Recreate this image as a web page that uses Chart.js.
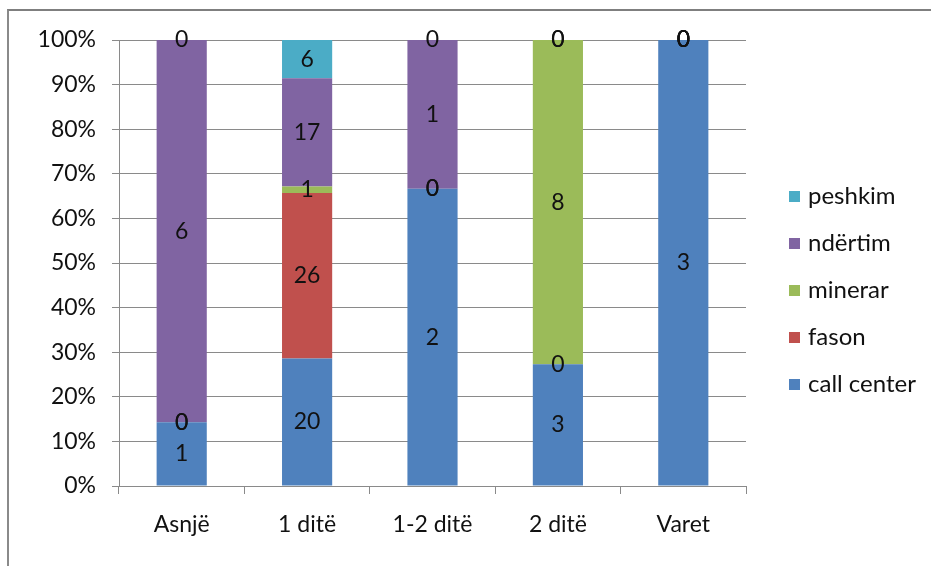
<!DOCTYPE html>
<html>
<head>
<meta charset="utf-8">
<script src="https://cdn.jsdelivr.net/npm/chart.js@4"></script>
<style>
  html, body { margin: 0; padding: 0; background: #fff; width: 931px; height: 566px; overflow: hidden; }
  #frame { position: absolute; left: 7px; top: 9px; width: 940px; height: 600px; border-top: 2px solid #7f7f7f; border-left: 2px solid #8a8a8a; }
  #wrap { position: absolute; left: 0; top: 0; width: 931px; height: 566px; }
</style>
</head>
<body>
<div id="frame"></div>
<div id="wrap"><canvas id="c" width="931" height="566"></canvas></div>
<script>
const categories = ["Asnjë", "1 ditë", "1-2 ditë", "2 ditë", "Varet"];
const seriesNames = ["call center", "fason", "minerar", "ndërtim", "peshkim"];
const callCenter = [1, 20, 2, 3, 3];
const fason      = [0, 26, 0, 0, 0];
const minerar    = [0, 1, 0, 8, 0];
const ndertim    = [6, 17, 1, 0, 0];
const peshkim    = [0, 6, 0, 0, 0];
const seriesColors = ["#4F81BD", "#C0504D", "#9BBB59", "#8064A2", "#4BACC6"];
const yTicks = [0, 10, 20, 30, 40, 50, 60, 70, 80, 90, 100];

const counts = [callCenter, fason, minerar, ndertim, peshkim];
const totals = categories.map((_, i) => counts.reduce((s, arr) => s + arr[i], 0));

const FONT = "Lato, 'Open Sans', sans-serif";
const TEXT = "#111111";

const datasets = counts.map((arr, k) => ({
  label: seriesNames[k],
  data: arr.map((v, i) => totals[i] ? v / totals[i] * 100 : 0),
  raw: arr,
  backgroundColor: seriesColors[k],
  borderWidth: 0,
  categoryPercentage: 1.0,
  barPercentage: 0.4
}));

const labelPlugin = {
  id: 'segLabels',
  afterDatasetsDraw(chart) {
    const ctx = chart.ctx;
    ctx.save();
    ctx.font = "23px " + FONT;
    ctx.fillStyle = TEXT;
    ctx.textAlign = "center";
    ctx.textBaseline = "middle";
    chart.data.datasets.forEach((ds, k) => {
      const meta = chart.getDatasetMeta(k);
      meta.data.forEach((el, i) => {
        const y = (el.y + el.base) / 2;
        ctx.fillText(String(ds.raw[i]), el.x, y);
      });
    });
    ctx.restore();
  }
};

const legendPlugin = {
  id: 'sideLegend',
  afterDraw(chart) {
    const ctx = chart.ctx;
    const area = chart.chartArea;
    ctx.save();
    ctx.font = "24px " + FONT;
    ctx.textAlign = "left";
    ctx.textBaseline = "middle";
    const n = chart.data.datasets.length;
    const step = 47;
    const x0 = area.right + 43;
    const yFirst = 196;
    for (let j = 0; j < n; j++) {
      const k = n - 1 - j;
      const ds = chart.data.datasets[k];
      const y = yFirst + j * step;
      ctx.fillStyle = ds.backgroundColor;
      ctx.fillRect(x0, y - 5, 11, 11);
      ctx.fillStyle = TEXT;
      ctx.fillText(ds.label, x0 + 19, y);
    }
    ctx.restore();
  }
};

new Chart(document.getElementById('c'), {
  type: 'bar',
  data: { labels: categories, datasets },
  plugins: [labelPlugin, legendPlugin],
  options: {
    responsive: false,
    animation: false,
    devicePixelRatio: 1,
    layout: { padding: { left: 0, right: 185, top: 40, bottom: 0 } },
    plugins: { legend: { display: false }, tooltip: { enabled: false } },
    scales: {
      x: {
        stacked: true,
        grid: { display: true, drawOnChartArea: false, drawTicks: true, tickLength: 8, offset: true, color: "#8a8a8a" },
        border: { display: true, color: "#8a8a8a", width: 1 },
        ticks: { color: TEXT, font: { family: FONT, size: 23 }, padding: 17, maxRotation: 0 },
        afterFit(s) { s.height = 80; }
      },
      y: {
        stacked: true,
        min: 0,
        max: 100,
        afterBuildTicks(s) { s.ticks = yTicks.map(v => ({ value: v })); },
        grid: { color: "#8a8a8a", tickLength: 7, lineWidth: 1 },
        border: { display: true, color: "#8a8a8a", width: 1 },
        ticks: { color: TEXT, font: { family: FONT, size: 23 }, padding: 16, callback: v => v + "%" },
        afterFit(s) { s.width = 119; }
      }
    }
  }
});
</script>
</body>
</html>
